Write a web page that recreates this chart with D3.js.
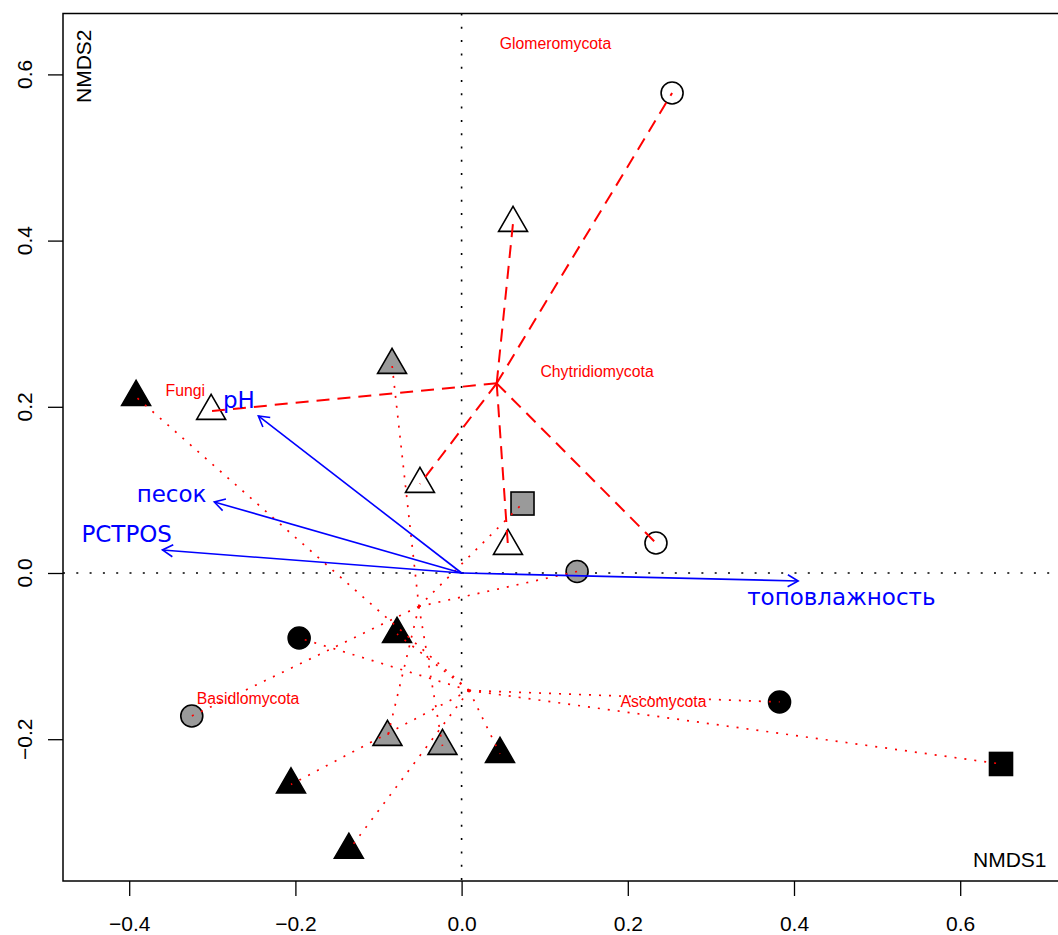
<!DOCTYPE html>
<html><head><meta charset="utf-8">
<script src="https://cdn.jsdelivr.net/npm/d3@7"></script>
<style>body{margin:0;background:#fff;overflow:hidden}</style>
</head><body><svg id="c" width="1058" height="935"></svg>
<script>
// ---- data ----
const xTicks = [-0.4, -0.2, 0.0, 0.2, 0.4, 0.6];
const yTicks = [-0.2, 0.0, 0.2, 0.4, 0.6];
const xTickLabels = ["\u22120.4", "\u22120.2", "0.0", "0.2", "0.4", "0.6"];
const yTickLabels = ["\u22120.2", "0.0", "0.2", "0.4", "0.6"];

// site scores (NMDS1, NMDS2)
const siteX = [0.0619, 0.2533, -0.3014, -0.0501, 0.0558, 0.2339,
               -0.0837, 0.0733, 0.1390, -0.3247, -0.0892, -0.0230,
               -0.3917, -0.1955, -0.0777, -0.2053, -0.1357, 0.0462, 0.3826, 0.6491];
const siteY = [0.4212, 0.5776, 0.1949, 0.1071, 0.0325, 0.0361,
               0.2503, 0.0836, 0.0018, -0.1721, -0.1974, -0.2082,
               0.2118, -0.0782, -0.0734, -0.2545, -0.3333, -0.2178, -0.1552, -0.2298];
const siteShape = ["triangle","circle","triangle","triangle","triangle","circle",
                   "triangle","square","circle","circle","triangle","triangle",
                   "triangle","circle","triangle","triangle","triangle","triangle","circle","square"];
const siteGroup = ["white","white","white","white","white","white",
                   "grey","grey","grey","grey","grey","grey",
                   "black","black","black","black","black","black","black","black"];

// taxa (species) scores
const taxa = ["Fungi", "Glomeromycota", "Chytridiomycota", "Basidiomycota", "Ascomycota"];
const taxaX = [-0.3325, 0.113, 0.163, -0.257, 0.243];
const taxaY = [0.220, 0.637, 0.243, -0.151, -0.155];

// environmental vectors
const envNames = ["pH", "песок", "PCTPOS", "топовлажность"];
const envX = [-0.2446, -0.2976, -0.360, 0.405];
const envY = [0.189, 0.0855, 0.0277, -0.0096];
const envLabX = [-0.268, -0.349, -0.403, 0.457];
const envLabY = [0.208, 0.095, 0.047, -0.028];

// ---- drawing ----
const svg = d3.select("#c");
const L = 63, R = 1070, T = 13.5, B = 881;
const unit = 831, x0 = 461.6, y0 = 573;
const x = d3.scaleLinear().domain([(L - x0) / unit, (R - x0) / unit]).range([L, R]);
const y = d3.scaleLinear().domain([(y0 - B) / unit, (y0 - T) / unit]).range([B, T]);

const fills = {white: "#ffffff", grey: "#9a9a9a", black: "#000000"};
const sans = "'Liberation Sans', Arial, Helvetica, sans-serif";

// axes
const xAxis = d3.axisBottom(x).tickValues(xTicks).tickSize(15).tickPadding(20)
  .tickFormat((d, i) => xTickLabels[i]);
const gx = svg.append("g").attr("transform", `translate(0,${B})`).call(xAxis);
gx.select(".domain").remove();
gx.selectAll("line").attr("stroke", "#000").attr("stroke-width", 1.3);
gx.selectAll("text").attr("font-family", sans).attr("font-size", 21).attr("fill", "#000");

const yAxis = d3.axisLeft(y).tickValues(yTicks).tickSize(15).tickFormat("");
const gy = svg.append("g").attr("transform", `translate(${L},0)`).call(yAxis);
gy.select(".domain").remove();
gy.selectAll("line").attr("stroke", "#000").attr("stroke-width", 1.3);
svg.append("g").selectAll("text").data(yTicks).join("text")
  .attr("transform", d => `translate(32,${y(d)}) rotate(-90)`)
  .attr("text-anchor", "middle").attr("font-family", sans).attr("font-size", 21)
  .text((d, i) => yTickLabels[i]);

// frame
svg.append("rect").attr("x", L).attr("y", T).attr("width", R - L).attr("height", B - T)
  .attr("fill", "none").attr("stroke", "#000").attr("stroke-width", 1.5);

// zero lines
svg.append("line").attr("x1", L).attr("x2", R).attr("y1", y(0)).attr("y2", y(0))
  .attr("stroke", "#000").attr("stroke-width", 1.6).attr("stroke-dasharray", "2,11.3");
svg.append("line").attr("y1", T).attr("y2", B).attr("x1", x(0)).attr("x2", x(0))
  .attr("stroke", "#000").attr("stroke-width", 1.6).attr("stroke-dasharray", "2,11.3");

// axis titles
svg.append("text").attr("transform", "translate(91,103) rotate(-90)")
  .attr("font-family", sans).attr("font-size", 21).text("NMDS2");
svg.append("text").attr("x", 973).attr("y", 867)
  .attr("font-family", sans).attr("font-size", 21).text("NMDS1");

// points
const sites = siteX.map((v, i) => ({x: v, y: siteY[i], shape: siteShape[i], group: siteGroup[i]}));
const triR = 16.7;
const triPath = `M0,${-triR} L${triR * Math.sqrt(3) / 2},${triR / 2} L${-triR * Math.sqrt(3) / 2},${triR / 2} Z`;
const gp = svg.append("g");
sites.forEach(s => {
  const px = x(s.x), py = y(s.y);
  const fill = fills[s.group];
  let el;
  if (s.shape === "triangle") {
    el = gp.append("path").attr("d", triPath).attr("transform", `translate(${px},${py})`);
  } else if (s.shape === "circle") {
    el = gp.append("circle").attr("cx", px).attr("cy", py).attr("r", 11);
  } else {
    el = gp.append("rect").attr("x", px - 11.5).attr("y", py - 11.5).attr("width", 23).attr("height", 23);
  }
  el.attr("fill", fill).attr("stroke", "#000").attr("stroke-width", 1.6);
});

// spiders
const groups = ["white", "grey", "black"];
const gs = svg.append("g");
groups.forEach(g => {
  const pts = sites.filter(s => s.group === g);
  const cx = d3.mean(pts, d => d.x), cy = d3.mean(pts, d => d.y);
  gs.selectAll(null).data(pts).join("line")
    .attr("x1", x(cx)).attr("y1", y(cy))
    .attr("x2", d => x(d.x)).attr("y2", d => y(d.y))
    .attr("stroke", "#ff0000")
    .attr("stroke-width", g === "white" ? 2 : 1.7)
    .attr("stroke-dasharray", g === "white" ? "13,8" : "2,8");
});

// taxa labels
svg.append("g").selectAll("text").data(taxa).join("text")
  .attr("x", (d, i) => x(taxaX[i])).attr("y", (d, i) => y(taxaY[i]))
  .attr("dy", "0.36em").attr("text-anchor", "middle")
  .attr("font-family", sans).attr("font-size", 15.8).attr("fill", "#ff0000")
  .text(d => d);

// env arrows
const ga = svg.append("g").attr("stroke", "#0000ff").attr("stroke-width", 1.6).attr("fill", "none");
envNames.forEach((n, i) => {
  const x1 = x(0), y1 = y(0), x2 = x(envX[i]), y2 = y(envY[i]);
  ga.append("line").attr("x1", x1).attr("y1", y1).attr("x2", x2).attr("y2", y2);
  const ang = Math.atan2(y2 - y1, x2 - x1), hl = 12, ha = Math.PI / 6;
  const p = d3.path();
  p.moveTo(x2 - hl * Math.cos(ang - ha), y2 - hl * Math.sin(ang - ha));
  p.lineTo(x2, y2);
  p.lineTo(x2 - hl * Math.cos(ang + ha), y2 - hl * Math.sin(ang + ha));
  ga.append("path").attr("d", p.toString());
});
svg.append("g").selectAll("text").data(envNames).join("text")
  .attr("x", (d, i) => x(envLabX[i])).attr("y", (d, i) => y(envLabY[i]))
  .attr("dy", "0.36em").attr("text-anchor", "middle")
  .attr("font-family", "'DejaVu Sans', sans-serif").attr("font-size", 23).attr("fill", "#0000ff")
  .text(d => d);
</script></body></html>
